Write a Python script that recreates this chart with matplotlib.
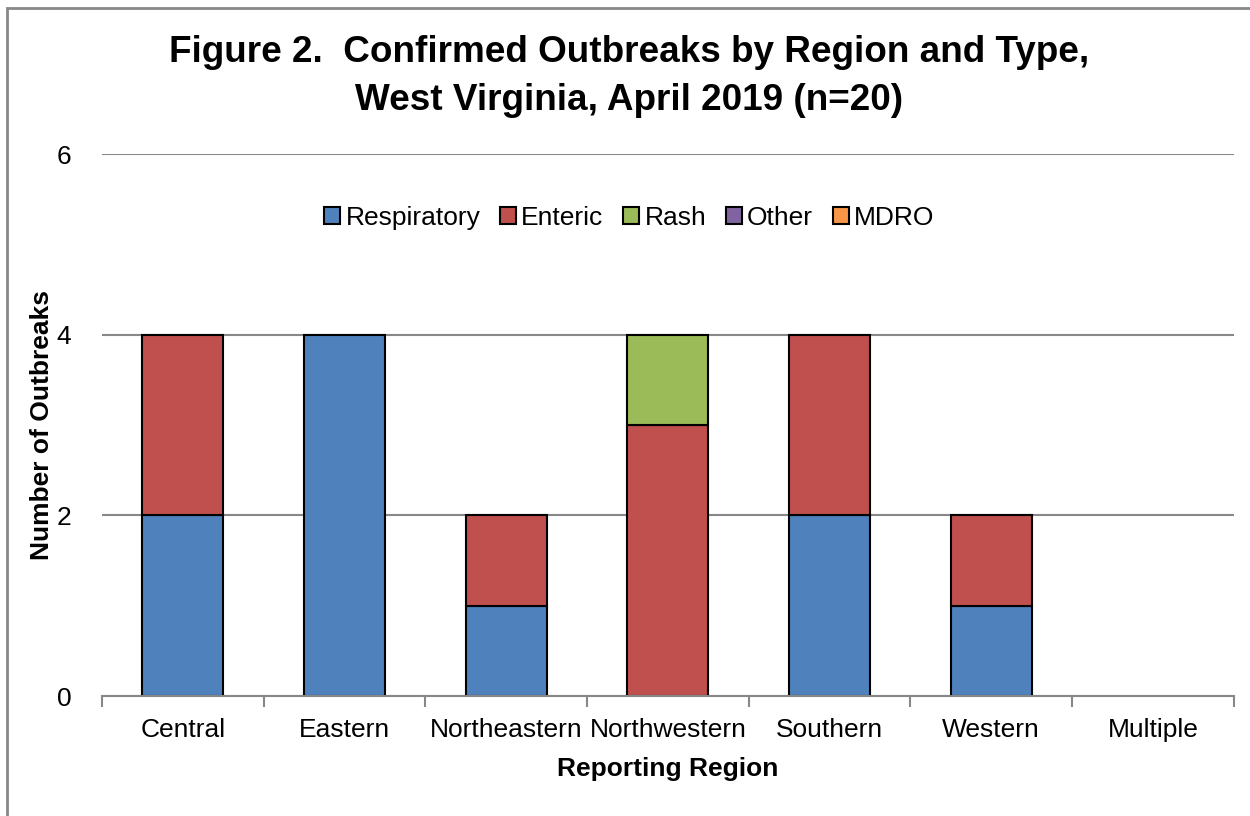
import numpy as np
import matplotlib
matplotlib.use("Agg")
import matplotlib.pyplot as plt
from matplotlib.patches import Rectangle, Patch

plt.rcParams["font.family"] = ["Liberation Sans", "DejaVu Sans"]

regions = ["Central", "Eastern", "Northeastern", "Northwestern", "Southern", "Western", "Multiple"]
respiratory = [2, 4, 1, 0, 2, 1, 0]
enteric = [2, 0, 1, 3, 2, 1, 0]
rash = [0, 0, 0, 1, 0, 0, 0]
other = [0, 0, 0, 0, 0, 0, 0]
mdro = [0, 0, 0, 0, 0, 0, 0]

series = [
    ("Respiratory", respiratory, "#4F81BD"),
    ("Enteric", enteric, "#C0504D"),
    ("Rash", rash, "#9BBB59"),
    ("Other", other, "#8064A2"),
    ("MDRO", mdro, "#F79646"),
]

fig = plt.figure(figsize=(12.5, 8.16), dpi=100)
ax = fig.add_axes([0.0816, 0.147, 0.9054, 0.664])

x = np.arange(len(regions))
bottom = np.zeros(len(regions))
handles = []
for name, vals, color in series:
    vals = np.array(vals, dtype=float)
    lw = [1.5 if v > 0 else 0 for v in vals]
    ax.bar(x, vals, width=0.5, bottom=bottom, color=color, edgecolor="black",
           linewidth=lw, zorder=3)
    handles.append(Patch(facecolor=color, edgecolor="black", linewidth=1.5, label=name))
    bottom += vals

ax.set_xlim(-0.5, len(regions) - 0.5)
ax.set_ylim(0, 6)
ax.set_yticks([0, 2, 4, 6])
ax.tick_params(axis="y", length=0, pad=22, labelsize=19)
ax.yaxis.grid(True, color="#888888", linewidth=1.5, zorder=0)

ax.set_xticks(np.arange(-0.5, len(regions)), minor=False)
ax.set_xticklabels([])
ax.set_xticks(x, minor=True)
ax.set_xticklabels(regions, minor=True, fontsize=19)
ax.tick_params(axis="x", which="major", length=8, width=1.5, color="#888888")
ax.tick_params(axis="x", which="minor", length=0, pad=16)

for s in ["top", "right", "left"]:
    ax.spines[s].set_visible(False)
ax.spines["bottom"].set_color("#888888")
ax.spines["bottom"].set_linewidth(1.5)
ax.spines["bottom"].set_zorder(4)

ax.set_xlabel("Reporting Region", fontsize=19, fontweight="bold")
ax.xaxis.set_label_coords(0.5, -0.113)
ax.set_ylabel("Number of Outbreaks", fontsize=19, fontweight="bold")
ax.yaxis.set_label_coords(-0.042, 0.5)

leg = ax.legend(handles=handles, loc="center", bbox_to_anchor=(0.466, 0.882), ncol=5,
                frameon=False, fontsize=19, handlelength=0.6, handleheight=0.6,
                handletextpad=0.2, columnspacing=0.75)

fig.text(0.503, 1 - 53 / 816, "Figure 2.  Confirmed Outbreaks by Region and Type,",
         ha="center", va="center", fontsize=26.6, fontweight="bold")
fig.text(0.503, 1 - 100 / 816, "West Virginia, April 2019 (n=20)",
         ha="center", va="center", fontsize=26.6, fontweight="bold")

fig.patches.append(Rectangle((0.0056, -0.02), 1.1, 0.02 + 1 - 8 / 816, transform=fig.transFigure,
                             fill=False, edgecolor="#888888", linewidth=2))

fig.savefig("out.png", dpi=100)
